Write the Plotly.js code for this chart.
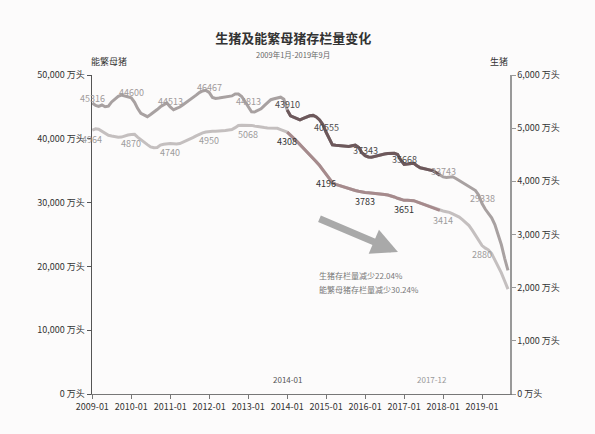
<!DOCTYPE html>
<html>
<head>
<meta charset="utf-8">
<script src="https://cdn.plot.ly/plotly-3.0.1.min.js"></script>
<style>html,body{margin:0;padding:0;background:#fcfbfb;}#chart{width:595px;height:434px;}</style>
</head>
<body>
<div id="chart"></div>
<script>
// ---- DATA ----
const startYear = 2009, monthCount = 129; // 2009-01 .. 2019-09
const months = [];
for (let i = 0; i < monthCount; i++) {
  const y = startYear + Math.floor(i / 12), m = (i % 12) + 1;
  months.push(y + '-' + (m < 10 ? '0' + m : m) + '-01');
}
// upper line (left axis)
const hogs = [
 45600,45220,45090,45300,45030,45110,45780,46290,46660,46840,46730,46630,
 46410,45730,44780,44000,43700,43470,43800,44160,44590,45020,45310,45610,
 45000,44550,44770,44980,45330,45690,46040,46440,46840,47250,47500,47590,
 47280,46480,46310,46380,46440,46480,46540,46720,47020,47030,46630,45840,
 45000,44230,44200,44410,44690,45200,45700,46130,46280,46440,46520,46210,
 44530,43610,43410,43190,42970,43190,43390,43610,43670,43420,42950,42240,
 41020,39920,39050,38980,38920,38840,38780,38800,38910,39010,38670,37830,
 37360,37150,37100,37250,37410,37530,37610,37690,37770,37730,37530,36640,
 35970,36070,36170,36170,35780,35450,35340,35220,35110,34970,34640,34300,
 34030,33950,33950,34060,33780,33480,33170,32880,32590,32250,31890,31170,
 29840,28950,28330,27610,26560,25120,23390,21270,19380];
// lower line (right axis)
const sows = [
 4962,4987,4981,4943,4904,4866,4853,4840,4830,4832,4853,4870,
 4879,4883,4830,4777,4734,4691,4648,4631,4637,4681,4696,4711,
 4713,4708,4701,4711,4736,4760,4789,4823,4855,4889,4911,4926,
 4940,4943,4943,4943,4947,4957,4966,4974,5010,5050,5057,5057,
 5057,5052,5040,5027,5017,5011,5005,5000,5000,4998,4974,4949,
 4925,4870,4813,4758,4692,4625,4557,4495,4434,4373,4297,4217,
 4138,4057,3975,3943,3923,3900,3877,3860,3844,3828,3813,3798,
 3791,3785,3781,3777,3770,3761,3752,3742,3728,3706,3681,3658,
 3642,3642,3642,3636,3615,3592,3571,3549,3526,3502,3478,3455,
 3442,3429,3417,3389,3358,3328,3278,3223,3168,3081,2981,2885,
 2792,2743,2712,2639,2528,2387,2278,2125,1972];
const labelMonths = ['2009-01-01','2010-01-01','2011-01-01','2012-01-01','2013-01-01','2014-01-01',
                     '2015-01-01','2016-01-01','2017-01-01','2018-01-01','2019-01-01'];
const hogLabels = [45316,44600,44513,46467,44813,43910,40555,37343,35668,33743,29338];
const sowLabels = [4964,4870,4740,4950,5068,4308,4196,3783,3651,3414,2880];
const highlightStart = '2014-01-01', highlightEnd = '2017-12-01';
const titleText = '生猪及能繁母猪存栏量变化';
const subtitleText = '2009年1月-2019年9月';
const leftAxisName = '能繁母猪', rightAxisName = '生猪';
const noteLines = ['生猪存栏量减少22.04%', '能繁母猪存栏量减少30.24%'];
const unit = ' 万头';

// ---- CHART ----
const FONT = 'Noto Sans CJK SC, sans-serif';
const hs = months.indexOf(highlightStart), he = months.indexOf(highlightEnd);
const traces = [
  {x: months, y: hogs, yaxis: 'y', mode: 'lines', line: {color: '#a8a1a1', width: 3}, hoverinfo: 'skip'},
  {x: months, y: sows, yaxis: 'y2', mode: 'lines', line: {color: '#c4bfbf', width: 3}, hoverinfo: 'skip'},
  {x: months.slice(hs, he + 1), y: hogs.slice(hs, he + 1), yaxis: 'y', mode: 'lines', line: {color: '#6d585b', width: 3}, hoverinfo: 'skip'},
  {x: months.slice(hs, he + 1), y: sows.slice(hs, he + 1), yaxis: 'y2', mode: 'lines', line: {color: '#a68a8c', width: 3}, hoverinfo: 'skip'}
];

const annotations = [];
labelMonths.forEach((d, i) => {
  const idx = months.indexOf(d);
  const inHi = d >= highlightStart && d <= highlightEnd;
  annotations.push({x: d, y: hogs[idx], xref: 'x', yref: 'y', text: String(hogLabels[i]), showarrow: false,
    yanchor: 'middle', yshift: 5, font: {family: FONT, size: 9, color: inHi ? '#4a4a4a' : '#a09a9a'}});
  annotations.push({x: d, y: sows[idx], xref: 'x', yref: 'y2', text: String(sowLabels[i]), showarrow: false,
    yanchor: 'middle', yshift: -9, font: {family: FONT, size: 9, color: inHi ? '#333333' : '#9c9c9c'}});
});
annotations.push(
  {xref: 'paper', yref: 'paper', x: 0.481, y: 1.063, yanchor: 'middle', text: subtitleText, showarrow: false,
   font: {family: FONT, size: 7.5, color: '#666'}},
  {xref: 'paper', yref: 'paper', x: -0.007, y: 1.041, yanchor: 'middle', text: leftAxisName, showarrow: false,
   font: {family: FONT, size: 9, color: '#333'}},
  {xref: 'paper', yref: 'paper', x: 1.0, y: 1.041, yanchor: 'middle', text: rightAxisName, showarrow: false,
   font: {family: FONT, size: 9, color: '#333'}},
  {xref: 'x', yref: 'paper', x: highlightStart, y: 0.044, yanchor: 'middle', text: '2014-01', showarrow: false,
   font: {family: FONT, size: 8, color: '#555'}},
  {xref: 'x', yref: 'paper', x: highlightEnd, y: 0.044, yanchor: 'middle', xshift: -8, text: '2017-12', showarrow: false,
   font: {family: FONT, size: 8, color: '#999'}},
  {xref: 'paper', yref: 'paper', x: 0.538, y: 0.37, xanchor: 'left', yanchor: 'middle', text: noteLines[0], showarrow: false,
   font: {family: FONT, size: 8, color: '#777'}},
  {xref: 'paper', yref: 'paper', x: 0.538, y: 0.329, xanchor: 'left', yanchor: 'middle', text: noteLines[1], showarrow: false,
   font: {family: FONT, size: 8, color: '#777'}},
  {xref: 'paper', yref: 'paper', x: 0.732, y: 0.445, ax: -80, ay: -34, text: '', showarrow: true,
   arrowhead: 2, arrowsize: 0.75, arrowwidth: 7, arrowcolor: '#a9a9a9', standoff: 0, startstandoff: 0}
);

const axisCommon = {showgrid: false, zeroline: false, showline: true, ticks: 'outside', ticklen: 4,
  tickfont: {family: FONT, size: 9, color: '#333'}};

const layout = {
  width: 595, height: 434,
  margin: {l: 92, r: 85, t: 75, b: 40},
  paper_bgcolor: '#fcfbfb', plot_bgcolor: '#fcfbfb',
  showlegend: false,
  font: {family: FONT},
  title: {text: '<b>' + titleText + '</b>', x: 0.493, xref: 'container', xanchor: 'center',
          y: 0.912, yref: 'container', yanchor: 'middle', font: {family: FONT, size: 13, color: '#333'}},
  xaxis: Object.assign({}, axisCommon, {type: 'date', range: ['2008-12-29', '2019-09-20'],
    tick0: '2009-01-01', dtick: 'M12', tickformat: '%Y-%m', linecolor: '#777', tickcolor: '#777', linewidth: 1}),
  yaxis: Object.assign({}, axisCommon, {range: [0, 50000], tickmode: 'linear', tick0: 0, dtick: 10000,
    tickformat: ',', ticksuffix: unit, showticksuffix: 'all', linecolor: '#555', tickcolor: '#555', linewidth: 1.5}),
  yaxis2: Object.assign({}, axisCommon, {range: [0, 6000], overlaying: 'y', side: 'right',
    tickmode: 'linear', tick0: 0, dtick: 1000, tickformat: ',', ticksuffix: unit, showticksuffix: 'all',
    linecolor: '#999', tickcolor: '#999', linewidth: 1.5}),
  annotations: annotations
};

Plotly.newPlot('chart', traces, layout, {displayModeBar: false, staticPlot: true});
</script>
</body>
</html>
